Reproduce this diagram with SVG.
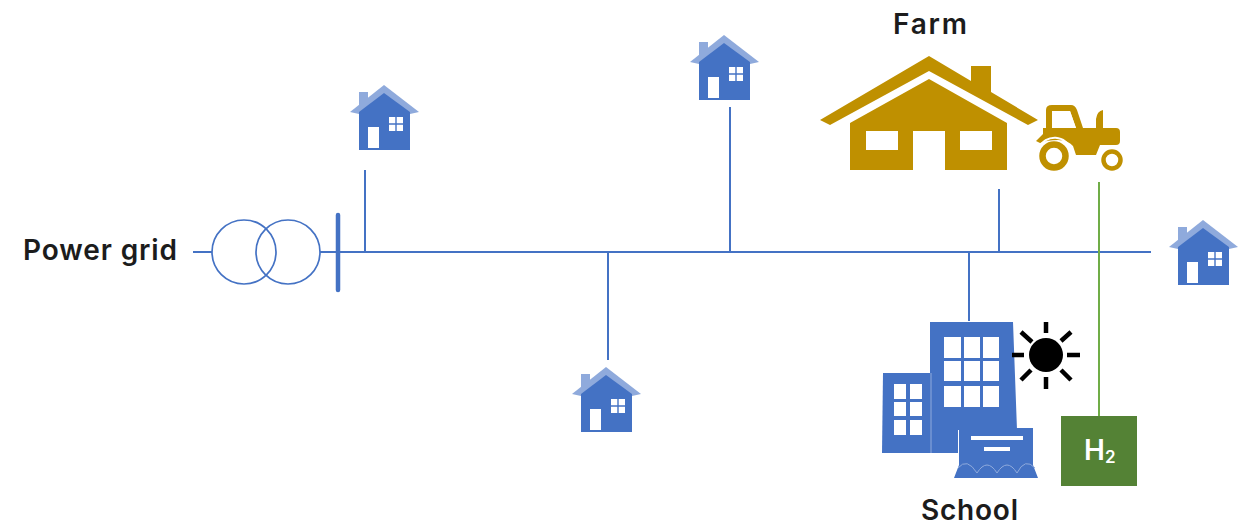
<svg xmlns="http://www.w3.org/2000/svg" width="1243" height="526" viewBox="0 0 1243 526">
<style>
.lbl{font-family:"Inter","Liberation Sans",sans-serif;font-weight:600;font-size:28px;fill:#1c1c1c}
.bus{stroke:#4472c4;stroke-width:2;fill:none}
.b{fill:#4472c4}.w{fill:#fff}.g{fill:#bf9000}.l{fill:#8faadc}
.sun{stroke:#000;stroke-width:4.500;stroke-linecap:butt}
</style>
<defs>
<g id="house">
<path class="l" d="M-25 7H-16V20L-25 27Z"/>
<path class="l" d="M-34 27L0 0L35 27L26 29H-25Z"/>
<path class="b" d="M-25 27L0 8L26 27V65H-25Z"/>
<rect x="-16" y="42" width="11" height="21" class="w"/>
<path class="w" d="M5 32h6.300v6.300h-6.300zM12.700 32h6.300v6.300h-6.300zM5 39.700h6.300v6.300h-6.300zM12.700 39.700h6.300v6.300h-6.300z"/>
</g>
</defs>
<g id="connectors">
<path class="bus" d="M193 252H212M320 252H1151M365 170V252M730 107V252M608 252V360M999 189V252M969 252V321"/>
<path d="M1099 182V416" stroke="#70ad47" stroke-width="2" fill="none"/>
</g>
<g id="transformer">
<circle cx="244" cy="252" r="32" fill="none" stroke="#4472c4" stroke-width="1.700"/>
<circle cx="288" cy="252" r="32" fill="none" stroke="#4472c4" stroke-width="1.700"/>
<path d="M338 215V290" stroke="#4472c4" stroke-width="4.500" stroke-linecap="round"/>
</g>
<g id="power-grid"><text class="lbl" x="23" y="260" textLength="154">Power grid</text></g>
<g id="house-1"><use href="#house" x="384" y="85"/></g>
<g id="house-2"><use href="#house" x="724" y="35"/></g>
<g id="house-3"><use href="#house" x="606" y="367"/></g>
<g id="house-4"><use href="#house" x="1203" y="220"/></g>
<g id="farm">
<text class="lbl" x="893" y="34" textLength="74">Farm</text>
<path class="g" d="M929 56L971 81V66H991V92L1038 120L1028 125L929 71L830 125L820 120Z"/>
<path class="g" d="M929 79L1007 123V170H945V131H913V170H850V123Z"/>
<path class="w" d="M866 131H898V150H866ZM960 131H992V150H960Z"/>
</g>
<g id="tractor">
<path class="g" d="M1046 110Q1046 105 1052 105H1071Q1075 105 1077 110L1083 128H1096V119Q1097 111 1103 110V128H1116Q1120 128 1120 132V141Q1120 145 1116 145H1100L1096 155H1076L1073 146Q1068 140 1058 140Q1047 140 1040 143L1036 141L1043 134V128H1046ZM1052 111V128H1076L1070 111Z"/>
<path class="w" d="M1052 111V128H1076L1070 111Z"/>
<path d="M1039 148A17 17 0 0 1 1071 150" fill="none" stroke="#fff" stroke-width="2"/>
<circle cx="1054" cy="156" r="11.500" fill="#fff" stroke="#bf9000" stroke-width="6.500"/>
<circle cx="1112" cy="160" r="8.500" fill="#fff" stroke="#bf9000" stroke-width="4.500"/>
</g>
<g id="school">
<path class="b" d="M883 373H931V453H882Z"/>
<path class="b" d="M930 322H1013L1017 430H958V453H930Z"/>
<path d="M931 373V453" stroke="#8faadc" stroke-width="1"/>
<path class="w" d="M894 384h12v15h-12zM910 384h12v15h-12zM894 402h12v14h-12zM910 402h12v14h-12zM894 420h12v15h-12zM910 420h12v15h-12z"/>
<path class="w" d="M944 337h17v21h-17zM964 337h16v21h-16zM983 337h16v21h-16zM944 361h17v20h-17zM964 361h16v20h-16zM983 361h16v20h-16zM944 386h17v21h-17zM964 386h16v21h-16zM983 386h16v21h-16z"/>
<path class="b" d="M959 428H1033V465L1038 478H954L959 465Z"/>
<path class="w" d="M971 436H1023V440H971ZM984 447H1010V451H984Z"/>
<path d="M958 468Q967 457 977 473Q987 457 997 473Q1007 457 1017 473Q1025 457 1035 468" fill="none" stroke="#8faadc" stroke-width="1"/>
</g>
<g id="sun">
<circle cx="1046" cy="355" r="17"/>
<path class="sun" d="M1046 322V333M1046 377V389M1012 355H1024M1067 355H1080M1021 332L1032 342M1071 332L1061 341M1021 380L1031 370M1071 380L1061 370"/>
</g>
<g id="h2">
<rect x="1061" y="416" width="76" height="70" fill="#548235"/>
<text x="1084" y="460" fill="#fff" style="font-family:Inter,'Liberation Sans',sans-serif;font-weight:600;font-size:28px">H<tspan font-size="17" dy="3">2</tspan></text>
</g>
<g id="school-label"><text class="lbl" x="921" y="520" textLength="97">School</text></g>
</svg>
